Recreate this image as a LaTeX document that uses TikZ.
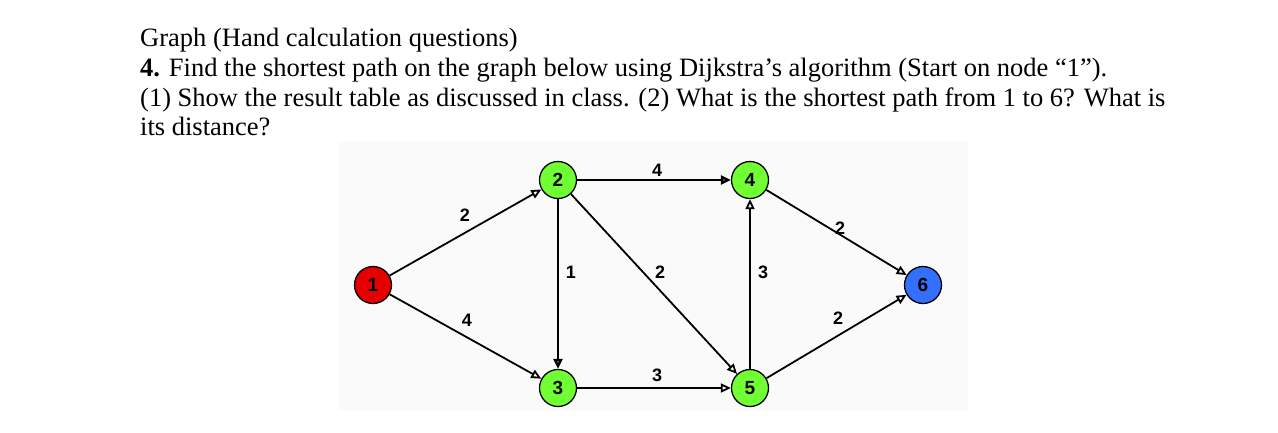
\documentclass[tikz,border=0pt]{standalone}
\usepackage{fontspec}
\setmainfont{Liberation Serif}
\newfontfamily\lsans{Liberation Sans}
\usetikzlibrary{arrows.meta}
\begin{document}
\begin{tikzpicture}[x=1pt,y=-1pt,
  vtx/.style={circle,draw=black,line width=1.3pt,minimum size=37pt,inner sep=0pt,font=\lsans\bfseries\fontsize{19}{19}\selectfont},
  edg/.style={line width=1.8pt,-{Triangle[open,length=10pt,width=9pt]}},
  wt/.style={font=\lsans\bfseries\fontsize{18}{18}\selectfont,inner sep=1pt},
  txt/.style={anchor=base west,inner sep=0pt,font=\fontsize{26.5}{30}\selectfont}]
\useasboundingbox (0,0) rectangle (1278,432);
\fill[white] (0,0) rectangle (1278,432);
\fill[gray!4] (338,142) rectangle (968,410);
\node[txt] (t1) at (140,46) {Graph (Hand calculation questions)};
\node[txt] (t2) at (140,76) {\textbf{4.} Find the shortest path on the graph below using Dijkstra’s algorithm (Start on node “1”).};
\node[txt] (t3) at (140,106) {(1) Show the result table as discussed in class. (2) What is the shortest path from 1 to 6? What is};
\node[txt] (t4) at (140,135) {its distance?};
\node[vtx,fill=red!90!black] (n1) at (373,285) {1};
\node[vtx,fill=green!60!lime!80] (n2) at (558,180) {2};
\node[vtx,fill=green!60!lime!80] (n3) at (558,388) {3};
\node[vtx,fill=green!60!lime!80] (n4) at (750,180) {4};
\node[vtx,fill=green!60!lime!80] (n5) at (750,388) {5};
\node[vtx,fill=blue!70!cyan!80] (n6) at (923,285) {6};
\draw[edg] (n1) -- (n2);
\draw[edg] (n1) -- (n3);
\draw[edg,line width=2.6pt] (n2) -- (n3);
\draw[edg,line width=2.6pt] (n2) -- (n4);
\draw[edg] (n2) -- (n5);
\draw[edg] (n3) -- (n5);
\draw[edg] (n5) -- (n4);
\draw[edg] (n4) -- (n6);
\draw[edg] (n5) -- (n6);
\node[wt] (w12) at (465,215) {2};
\node[wt] (w13) at (467,320) {4};
\node[wt] (w23) at (571,272) {1};
\node[wt] (w25) at (660,272) {2};
\node[wt] (w24) at (657,170) {4};
\node[wt] (w35) at (657,375) {3};
\node[wt] (w54) at (763,272) {3};
\node[wt] (w46) at (840,228) {2};
\node[wt] (w56) at (838,318) {2};
\end{tikzpicture}
\end{document}
